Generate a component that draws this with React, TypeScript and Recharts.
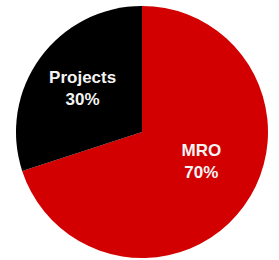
import React from 'react';
import { PieChart, Pie, Cell } from 'recharts';

const segments = ['MRO', 'Projects'];
const shares = [70, 30];
const colors = ['#d20000', '#000000'];

const data = segments.map((name, i) => ({ name, value: shares[i] }));

const RADIAN = Math.PI / 180;

// nudge labels to where the original places them
const labelTweak = [
  { r: 0.52, da: 11 },
  { r: 0.59, da: -1 },
];

const renderLabel = (props: any) => {
  const { cx, cy, midAngle, outerRadius, index, name, value } = props;
  const t = labelTweak[index] || { r: 0.55, da: 0 };
  const a = (midAngle + t.da) * RADIAN;
  const x = cx + outerRadius * t.r * Math.cos(a);
  const y = cy - outerRadius * t.r * Math.sin(a);
  return (
    <text
      x={x}
      y={y}
      fill="#f4f4f4"
      textAnchor="middle"
      fontFamily="'Liberation Sans', Arial, sans-serif"
      fontWeight="bold"
      fontSize={17}
    >
      <tspan x={x} dy={-4}>{name}</tspan>
      <tspan x={x} dy={22}>{`${value}%`}</tspan>
    </text>
  );
};

export default function App() {
  return (
    <div style={{ position: 'absolute', left: 0, top: 0, width: 279, height: 260, background: '#fff' }}>
      <PieChart width={279} height={260} margin={{ top: 0, right: 0, bottom: 0, left: 0 }}>
        <Pie
          data={data}
          dataKey="value"
          nameKey="name"
          cx={142}
          cy={132}
          outerRadius={126}
          startAngle={90}
          endAngle={-270}
          stroke="none"
          label={renderLabel}
          labelLine={false}
          isAnimationActive={false}
        >
          {data.map((d, i) => (
            <Cell key={d.name} fill={colors[i]} />
          ))}
        </Pie>
      </PieChart>
    </div>
  );
}
